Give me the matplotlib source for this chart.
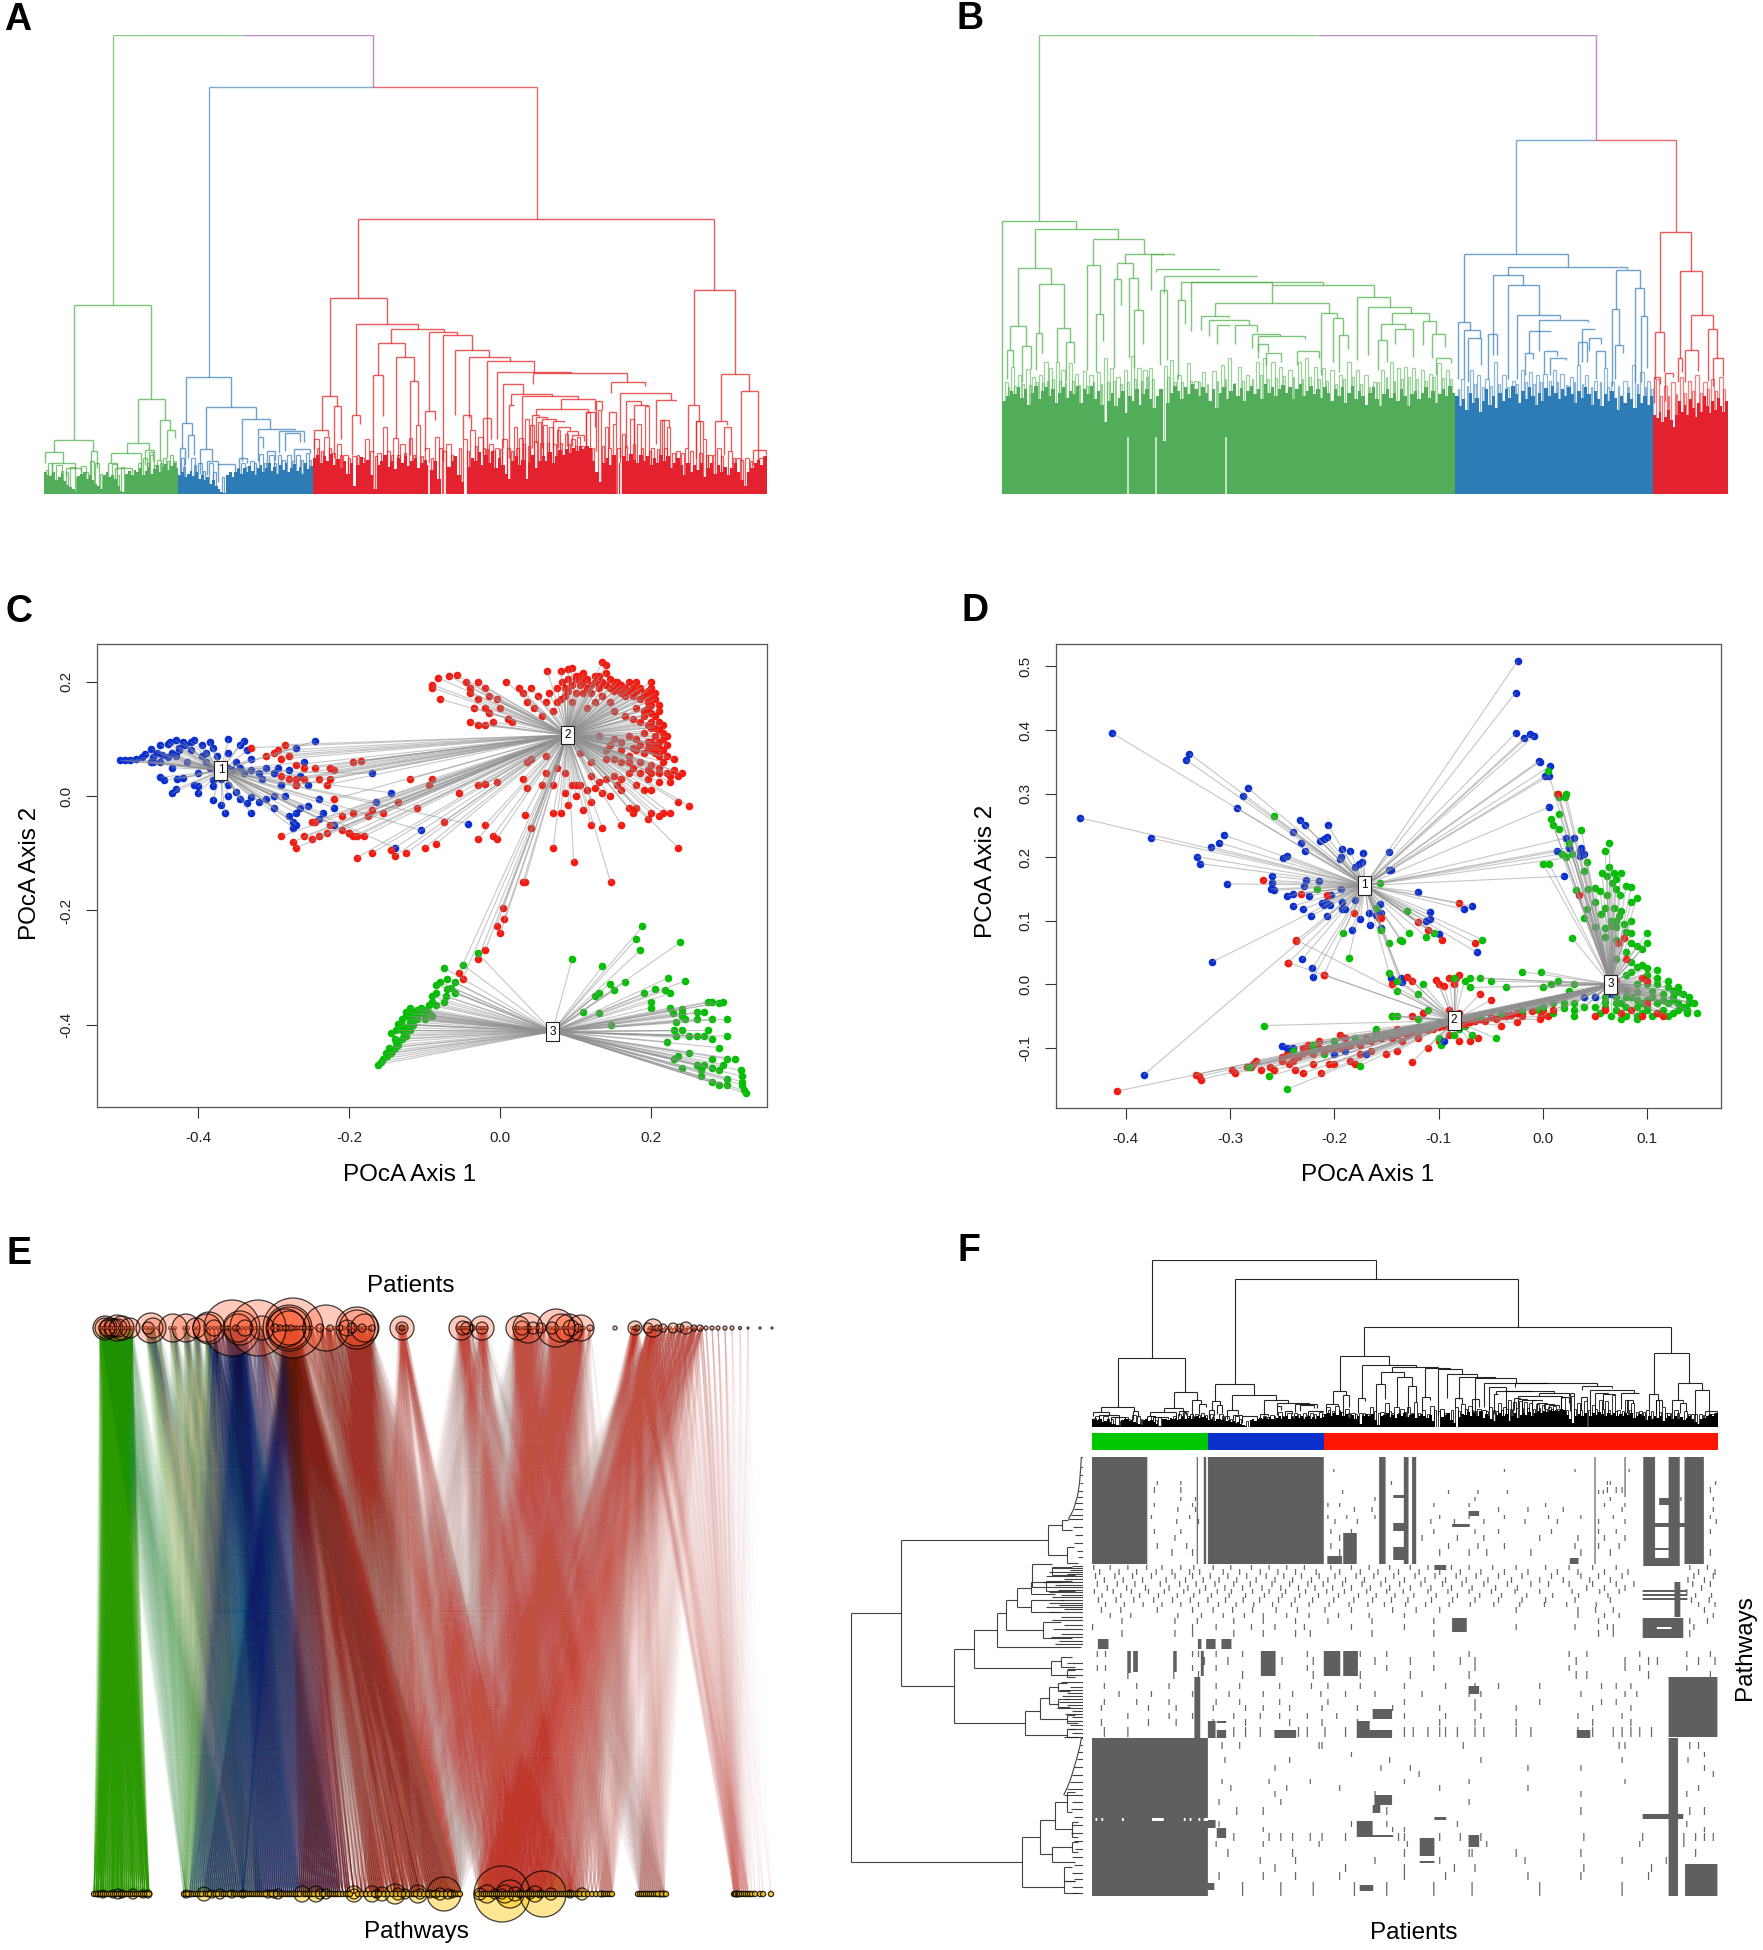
# -*- coding: utf-8 -*-
import numpy as np
import matplotlib
matplotlib.use('Agg')
import matplotlib.pyplot as plt
from matplotlib.collections import LineCollection
from matplotlib.patches import Circle

plt.rcParams['font.family'] = ['Liberation Sans', 'DejaVu Sans']
W, H = 1763, 1950

# ---- dendrogram A: (left x, right x, top, left bottom, right bottom), heights as read
a_root = (201, 664, 101, 886, 253)
a_second = (373, 956, 253, 1095, 637)
a_green = [(131,269,886,1277,1159),(97,165,1277,1313,1310),(81,112,1313,1345,1343),(92,133,1343,1370,1362),
           (118,145,1358,1382,1370),(162,172,1310,1380,1358),(246,294,1159,1286,1221),(226,265,1286,1314,1308),
           (197,252,1314,1345,1372),(204,235,1358,1400,1375),(258,275,1308,1350,1318),(285,303,1221,1340,1250),
           (298,312,1250,1330,1272),(265,272,1312,1370,1340),(192,208,1345,1390,1365)]
a_blue = [(332,412,1095,1228,1183),(325,342,1228,1300,1262),(335,345,1262,1330,1320),(320,330,1300,1375,1350),
          (367,457,1183,1303,1217),(357,378,1303,1375,1335),(368,388,1338,1380,1350),(388,418,1348,1400,1432),
          (432,481,1217,1340,1245),(460,525,1245,1265,1250),(460,468,1268,1340,1300),(497,541,1252,1315,1282),
          (507,535,1258,1310,1282),(523,553,1305,1340,1315),(475,490,1310,1370,1335),(425,440,1330,1380,1345)]
a_red = [(638,1272,637,865,841),(588,690,865,1151,941),(574,601,1151,1250,1178),(560,585,1250,1305,1265),
         (595,607,1178,1330,1275),(634,745,941,1205,955),(627,641,1205,1320,1230),(697,791,955,997,963),
         (673,721,997,1090,1038),(664,682,1090,1315,1208),(706,737,1038,1272,1105),(730,745,1105,1320,1235),
         (765,815,963,1193,973),(757,775,1193,1310,1220),(790,841,973,1340,1015),(810,871,1015,1205,1036),
         (825,840,1205,1275,1250),(835,909,1036,1215,1047),(860,875,1215,1320,1275),(867,951,1047,1340,1081),
         (886,1017,1081,1275,1084),(950,1118,1084,1115,1110),(897,932,1115,1300,1145),(907,915,1175,1330,1175),
         (911,984,1145,1175,1150),(930,1030,1150,1340,1160),(1000,1060,1160,1188,1190),(955,1047,1188,1205,1200),
         (1088,1149,1110,1142,1122),(1105,1195,1142,1330,1162),(1115,1142,1165,1300,1175),(1130,1155,1175,1290,1180),
         (1168,1205,1162,1290,1165),(1062,1072,1165,1310,1190),(1180,1192,1220,1320,1240),(948,960,1205,1300,1208),
         (955,975,1210,1285,1218),(965,990,1218,1300,1222),(985,1005,1222,1300,1225),(995,1015,1240,1300,1248),
         (1010,1030,1252,1295,1262),(1020,1040,1262,1295,1280),(1236,1309,841,1175,1087),(1225,1245,1175,1300,1222),
         (1240,1252,1222,1330,1275),(1285,1334,1087,1222,1136),(1274,1296,1222,1320,1235),(1320,1350,1136,1340,1335),
         (1342,1365,1308,1350,1320),(1290,1302,1240,1320,1310),(1045,1060,1195,1300,1240),(1085,1098,1195,1300,1230)]
# twigs: (x, width, top) of the small merges just above the dense part
a_twigs_green = [(85,8,1345),(100,10,1350),(125,8,1355),(145,8,1352),(160,8,1340),(170,6,1345),(200,8,1348),(215,6,1355),
                 (245,7,1345),(255,6,1330),(268,6,1320),(280,6,1335),(290,6,1330),(303,6,1320),(82,4,1365),(90,4,1375),(108,4,1368),
                 (118,4,1372),(135,4,1385),(152,4,1370),(178,4,1375),(208,4,1380),(226,4,1390),(240,4,1370),(262,4,1345),(274,4,1350),(285,4,1345),(297,4,1340),(310,4,1340)]
a_twigs_blue = [(322,6,1330),(340,7,1330),(352,8,1345),(372,8,1345),(430,7,1345),(445,8,1340),(462,7,1318),(480,8,1320),
                (495,6,1322),(512,7,1320),(528,6,1320),(545,6,1315),(326,4,1355),(346,4,1350),(362,4,1368),(380,4,1370),(395,4,1385),(422,4,1360),
                (438,4,1355),(452,4,1345),(470,4,1345),(488,4,1345),(503,4,1335),(520,4,1340),(536,4,1335),(551,4,1335)]
a_twigs_red = [(560,8,1275),(578,8,1268),(600,7,1290),(612,8,1320),(628,7,1325),(650,8,1275),(672,7,1315),(682,8,1240),
               (700,10,1272),(712,9,1290),(728,6,1272),(742,6,1235),(758,7,1300),(775,7,1270),(795,8,1290),(825,7,1275),
               (838,8,1250),(852,9,1270),(872,7,1290),(882,7,1300),(895,8,1275),(915,6,1240),(925,7,1272),(935,7,1218),
               (945,6,1235),(958,6,1225),(968,6,1235),(978,7,1240),(992,6,1250),(1006,6,1260),(1018,6,1275),(1028,6,1268),
               (1045,7,1195),(1065,6,1190),(1078,6,1240),(1092,6,1230),(1108,6,1260),(1122,7,1218),(1135,7,1230),(1150,6,1180),
               (1160,6,1300),(1176,7,1220),(1188,6,1240),(1205,6,1310),(1220,6,1300),(1240,7,1222),(1252,6,1275),(1262,6,1320),
               (1278,7,1300),(1298,6,1310),(1312,7,1330),(1328,6,1330),(1352,7,1330),
               (565,4,1300),(572,4,1310),(586,4,1300),(592,4,1315),(606,4,1320),(620,4,1330),(636,4,1320),(644,4,1330),(660,4,1310),(668,4,1325),
               (690,4,1310),(696,4,1320),(708,4,1320),(720,4,1315),(736,4,1320),(750,4,1325),(768,4,1330),(783,4,1300),(790,4,1310),(803,4,1320),
               (818,4,1300),(832,4,1310),(846,4,1295),(860,4,1300),(866,4,1305),(878,4,1310),(890,4,1305),(904,4,1300),(910,4,1310),(920,4,1300),
               (932,4,1290),(940,4,1295),(952,4,1280),(963,4,1285),(974,4,1285),(986,4,1290),(998,4,1285),(1012,4,1290),(1024,4,1295),(1036,4,1295),
               (1054,4,1300),(1072,4,1295),(1084,4,1300),(1100,4,1300),(1114,4,1295),(1128,4,1290),(1142,4,1300),(1156,4,1310),(1170,4,1305),(1184,4,1300),
               (1198,4,1315),(1214,4,1315),(1230,4,1310),(1246,4,1315),(1258,4,1320),(1270,4,1320),(1284,4,1325),(1306,4,1330),(1320,4,1335),(1336,4,1340),(1348,4,1340),(1360,4,1325)]
a_top_green = [1372,1378,1382,1370,1395,1385,1375,1398,1408,1415,1420,1428,1382,1375,1370,1390,1380,1395,1405,1412,1420,1380,1372,1385,
               1378,1392,1410,1425,1430,1375,1368,1380,1365,1372,1360,1378,1368,1355,1375,1362,1350,1370,1355,1348,1365,1352,1345,1360]
a_top_blue = [1378,1370,1385,1375,1368,1382,1372,1390,1378,1395,1385,1405,1395,1412,1420,1428,1432,1378,1370,1385,1372,1362,1375,1358,
              1370,1352,1368,1378,1360,1350,1372,1358,1345,1368,1355,1375,1350,1365,1345,1372,1358,1348,1368,1355,1375,1345,1362,1352]
a_top_red = [1330,1320,1345,1325,1340,1318,1350,1332,1360,1340,1375,1345,1410,1350,1328,1345,1335,1380,1420,1350,1340,1322,1355,1338,
             1362,1330,1345,1325,1352,1340,1330,1360,1345,1335,1350,1365,1340,1390,1433,1433,1355,1340,1325,1380,1400,1433,1355,1330,
             1340,1312,1350,1320,1345,1310,1360,1330,1350,1375,1390,1340,1325,1350,1335,1390,1345,1320,1360,1338,1325,1340,1312,1345,
             1325,1308,1320,1305,1315,1300,1310,1296,1305,1294,1300,1340,1372,1400,1345,1330,1350,1320,1433,1345,1325,1340,1318,1335,
             1345,1320,1340,1325,1350,1330,1345,1320,1340,1325,1360,1345,1330,1350,1380,1345,1370,1350,1365,1345,1385,1360,1345,1375,
             1350,1370,1355,1380,1360,1345,1370,1395,1410,1370,1360,1345,1335,1350,1325]

# ---- dendrogram B
b_root = (283, 1271, 101, 642, 407)
b_second = (1130, 1413, 407, 738, 675)
b_green = [(216,349,642,1165,665),(275,423,665,778,695),(379,469,695,769,737),(246,303,778,947,826),(283,326,826,966,953),
           (231,260,947,1015,1006),(225,237,1015,1100,1065),(253,268,1006,1110,1072),(277,287,966,1075,1024),(314,338,953,1052,994),
           (331,345,994,1105,1055),(368,390,769,1075,913),(384,396,913,1080,990),(421,450,764,810,806),(415,428,810,1070,887),
           (442,459,806,1040,900),(451,468,900,1070,1000),(436,522,737,764,741),(481,502,738,843,740),(497,510,843,1060,1044),
           (491,603,780,790,785),(504,670,800,850,800),(535,787,820,870,827),(530,541,870,1100,942),(553,696,820,960,827),
           (696,877,827,881,862),(595,798,881,917,909),(570,620,917,958,920),(585,655,930,975,945),(598,620,945,1000,948),
           (630,670,945,1000,965),(660,710,970,1010,975),(672,755,975,1020,985),(672,690,1000,1040,1022),(685,712,1025,1060,1050),
           (740,780,1020,1060,1040),(784,812,909,1090,924),(804,822,924,1050,972),(815,832,972,1080,1012),(848,905,862,1045,890),
           (867,943,890,1030,910),(910,975,908,942,932),(889,932,942,988,955),(915,947,955,1000,1036),(965,988,932,1002,970),
           (980,1003,970,1040,1008),(988,1014,1040,1090,1055),(885,900,988,1075,1050)]
b_blue = [(1037,1222,738,935,775),(1027,1047,935,1100,958),(1038,1066,958,1100,982),(1045,1068,982,1110,1060),(1115,1327,775,798,780),
          (1088,1142,798,1030,827),(1080,1095,970,1100,1030),(1115,1170,827,1100,915),(1132,1208,915,1100,925),(1170,1258,930,1020,935),
          (1152,1192,962,1025,962),(1145,1160,1025,1090,1042),(1180,1202,1018,1085,1035),(1190,1218,1040,1090,1045),(1247,1270,955,1050,955),
          (1240,1255,992,1060,1050),(1260,1280,980,1020,1000),(1272,1287,1020,1100,1070),(1307,1349,783,897,835),(1300,1313,897,1120,1003),
          (1306,1320,1003,1100,1025),(1340,1357,835,1110,917),(1352,1363,917,1110,1070)]
b_red = [(1385,1440,675,965,788),(1377,1393,965,1100,1080),(1420,1459,788,1040,915),(1418,1425,1040,1110,1080),(1441,1479,915,1015,955),
         (1430,1452,1015,1110,1078),(1470,1487,955,1105,1040),(1480,1498,1040,1120,1093),(1395,1408,1082,1165,1095),(1375,1385,1095,1170,1115)]
b_twigs_green = [(222,5,1110),(232,6,1065),(245,6,1090),(260,6,1072),(270,6,1095),(282,6,1090),(292,6,1050),(300,6,1070),(312,6,1052),
                 (322,6,1075),(335,6,1055),(346,6,1085),(360,6,1078),(372,6,1090),(385,6,1080),(398,6,1040),(408,6,1070),(420,7,1095),
                 (433,6,1075),(445,6,1035),(457,6,1070),(468,6,1075),(478,6,1070),(504,6,1062),(515,6,1045),(528,6,1090),(545,6,1055),
                 (558,6,1105),(572,6,1080),(590,6,1078),(605,6,1060),(618,6,1040),(635,6,1065),(650,6,1090),(668,6,1050),(680,6,1040),
                 (695,6,1050),(708,6,1065),(725,6,1075),(742,6,1050),(755,6,1040),(770,6,1065),(785,6,1070),(800,6,1075),(815,6,1090),
                 (830,6,1050),(845,6,1075),(860,6,1090),(875,6,1110),(890,6,1075),(905,6,1050),(918,6,1070),(930,6,1065),(945,6,1070),
                 (960,6,1075),(975,6,1085),(990,6,1055),(1005,6,1075),
                 (227,3,1125),(238,3,1120),(252,3,1115),(265,3,1118),(277,3,1110),(288,3,1112),(296,3,1105),(306,3,1100),(318,3,1105),(328,3,1112),
                 (341,3,1105),(353,3,1118),(366,3,1120),(378,3,1110),(392,3,1115),(403,3,1108),(414,3,1105),(427,3,1115),(439,3,1108),(451,3,1100),
                 (463,3,1105),(473,3,1095),(483,3,1100),(510,3,1095),(522,3,1110),(535,3,1108),(551,3,1105),(565,3,1110),(580,3,1115),(598,3,1105),
                 (612,3,1100),(628,3,1112),(643,3,1105),(660,3,1100),(675,3,1090),(688,3,1100),(702,3,1098),(716,3,1092),(733,3,1095),(749,3,1100),
                 (762,3,1095),(778,3,1100),(792,3,1105),(808,3,1115),(823,3,1100),(838,3,1095),(853,3,1115),(868,3,1125),(883,3,1110),(898,3,1095),
                 (912,3,1105),(925,3,1100),(938,3,1095),(952,3,1100),(968,3,1105),(982,3,1095),(998,3,1098),(1012,3,1100)]
b_twigs_blue = [(1032,6,1100),(1048,6,1075),(1060,6,1090),(1075,6,1100),(1090,6,1050),(1105,6,1090),(1122,6,1105),(1138,6,1075),(1152,6,1080),
                (1165,6,1090),(1178,6,1085),(1195,6,1075),(1208,6,1085),(1225,6,1095),(1238,6,1060),(1252,6,1090),(1268,6,1105),(1285,6,1070),
                (1298,6,1110),(1320,6,1105),(1335,6,1060),(1350,6,1080),(1362,6,1105),
                (1026,3,1130),(1042,3,1120),(1055,3,1115),(1070,3,1125),(1084,3,1120),(1098,3,1115),(1114,3,1125),(1130,3,1115),(1146,3,1110),(1160,3,1115),
                (1172,3,1110),(1188,3,1105),(1202,3,1110),(1218,3,1118),(1232,3,1110),(1246,3,1115),(1262,3,1125),(1278,3,1110),(1292,3,1125),(1310,3,1120),
                (1328,3,1125),(1344,3,1115),(1358,3,1125),(1369,3,1130)]
b_twigs_red = [(1378,6,1100),(1392,6,1120),(1405,6,1110),(1420,6,1095),(1435,6,1105),(1448,6,1090),(1462,6,1110),(1475,6,1100),(1490,7,1095),
               (1385,3,1150),(1399,3,1150),(1413,3,1145),(1428,3,1140),(1442,3,1135),(1456,3,1140),(1469,3,1130),(1483,3,1135),(1497,3,1130)]
b_top_green = [1165,1150,1135,1145,1125,1155,1130,1175,1140,1120,1160,1135,1125,1150,1130,1170,1140,1125,1155,1135,1145,1120,1170,1130,
               1145,1120,1160,1135,1175,1225,1165,1140,1180,1155,1135,1200,1150,1165,1130,1175,1145,1130,1160,1185,1150,1130,1280,1170,
               1140,1120,1135,1160,1125,1145,1115,1130,1150,1125,1140,1165,1130,1185,1140,1125,1160,1135,1115,1150,1128,1165,1135,1120,
               1145,1130,1160,1115,1140,1125,1150,1130,1118,1140,1125,1160,1130,1115,1150,1135,1120,1145,1130,1155,1125,1140,1165,1130,
               1150,1125,1170,1140,1120,1160,1135,1150,1175,1140,1125,1160,1180,1145,1130,1155,1140,1165,1130,1150,1180,1145,1135,1160,
               1140,1125,1155,1135,1170,1145,1130,1150,1120,1140]
b_top_blue = [1150,1180,1160,1190,1140,1170,1155,1195,1165,1130,1175,1150,1185,1140,1165,1130,1155,1120,1145,1170,1135,1160,1125,1150,
              1175,1140,1165,1128,1150,1120,1140,1160,1130,1150,1125,1145,1170,1135,1155,1125,1145,1175,1135,1160,1180,1145,1165,1135,
              1155,1190,1150,1170,1140,1160,1185,1145,1170,1150,1175,1150]
b_top_red = [1205,1215,1195,1225,1210,1190,1220,1240,1205,1165,1195,1175,1205,1160,1185,1210,1170,1195,1150,1180,1200,1165,1190,1155,1180,1195,1165]
b_gaps = [441, 490, 615]
a_gaps = [765, 1107]

# ---- panel C: ordination points
c_blue = [(-.503,.063),(-.497,.063),(-.49,.064),(-.482,.065),(-.475,.068),(-.47,.074),(-.462,.082),(-.46,.068),(-.455,.076),(-.448,.072),(-.463,.06),(-.45,.09),
          (-.44,.092),(-.437,.095),(-.43,.098),(-.425,.085),(-.42,.095),(-.425,.08),(-.43,.07),(-.418,.09),(-.41,.095),(-.405,.098),(-.41,.08),(-.395,.09),
          (-.385,.095),(-.39,.075),(-.38,.085),(-.375,.07),(-.36,.1),(-.36,.075),(-.345,.09),(-.34,.097),(-.335,.08),(-.35,.06),(-.33,.065),(-.345,.05),
          (-.355,.045),(-.4,.04),(-.39,.06),(-.415,.06),(-.435,.05),(-.45,.033),(-.445,.028),(-.428,.03),(-.42,.032),(-.38,.028),(-.4,.017),(-.405,.02),
          (-.43,.012),(-.435,.005),(-.4,.005),(-.38,.018),(-.37,.03),(-.36,.02),(-.35,.008),(-.365,-.03),(-.38,-.007),(-.37,-.015),(-.36,.0),(-.345,-.005),
          (-.335,-.012),(-.33,-.002),(-.32,-.01),(-.33,-.03),(-.31,-.005),(-.3,-.02),(-.28,-.035),(-.275,-.045),(-.27,-.03),(-.265,-.02),(-.255,-.018),(-.24,-.04),
          (-.235,-.03),(-.24,-.005),(-.22,-.02),(-.245,.097),(-.27,.085),(-.31,.05),(-.295,.05),(-.28,.045),(-.3,.04),(-.265,.035),(-.27,.02),(-.17,.04),
          (-.165,-.01),(-.145,.006),(-.105,-.06),(-.043,-.048),(-.14,-.09),(-.22,-.05),(-.2,-.065),(-.29,.02),(-.3,.0),(-.285,.0),(-.46,.06),(-.45,.06),(-.44,.068),(-.435,.075),
          (-.395,.07),(-.385,.05),(-.36,.05),(-.34,.04),(-.33,.045),(-.315,.03),(-.32,.04),(-.26,.06),(-.255,.02),(-.275,-.055),(-.27,-.05)]
c_red = [(-.09,.195),(-.09,.19),(-.082,.207),(-.068,.21),(-.058,.212),(-.08,.17),(-.045,.2),(-.04,.19),(-.03,.2),(-.02,.19),(-.04,.18),(-.015,.175),(-.03,.17),
         (-.035,.155),(-.02,.155),(-.005,.17),(.0,.155),(-.015,.145),(-.04,.13),(-.03,.125),(-.02,.125),(-.01,.13),(.01,.135),(.015,.13),(.008,.2),(.025,.19),
         (.03,.18),(.04,.19),(.035,.165),(.05,.175),(.045,.155),(.06,.165),(.055,.14),(.065,.18),(.062,.22),(.07,.15),(.075,.19),(.08,.22),(.082,.2),(.085,.19),
         (.09,.205),(.09,.222),(.095,.225),(.1,.205),(.105,.195),(.1,.18),(.11,.2),(.115,.19),(.12,.18),(.125,.2),(.13,.21),(.135,.235),(.14,.23),(.14,.215),
         (.145,.205),(.15,.2),(.155,.19),(.16,.18),(.17,.2),(.175,.19),(.18,.2),(.185,.19),(.19,.18),(.2,.2),(.2,.19),(.205,.18),(.205,.17),(.2,.16),(.21,.16),
         (.21,.15),(.205,.14),(.2,.13),(.21,.13),(.2,.12),(.21,.115),(.215,.11),(.205,.105),(.215,.1),(.19,.11),(.18,.1),(.17,.105),(.15,.1),(.13,.105),(.145,.09),
         (.16,.08),(.18,.08),(.19,.075),(.21,.07),(.22,.07),(.215,.06),(.23,.065),(.21,.05),(.2,.055),(.22,.04),(.23,.045),(.24,.04),(.235,.035),(.225,.035),
         (.195,.045),(.21,.025),(.225,.025),(.18,.02),(.17,.04),(.16,.03),(.15,.035),(.155,.02),(.14,.03),(.13,.025),(.12,.035),(.125,.015),(.105,.02),(.115,.01),
         (.1,.02),(.095,.02),(.085,.04),(.075,.05),(.06,.07),(.04,.065),(.035,.06),(.03,.03),(.035,.015),(.07,.02),(.09,-.015),(.11,-.025),(.135,-.055),(.12,-.05),
         (.16,-.05),(.18,-.02),(.17,-.02),(.175,-.03),(.2,-.03),(.195,-.04),(.21,-.035),(.215,-.03),(.225,-.03),(.235,-.01),(.25,-.017),(.235,-.09),(.146,-.151),
         (.097,-.115),(.07,-.09),(.03,-.15),(-.005,-.075),(.07,-.03),(.08,-.03),(.032,-.033),(.04,-.055),(-.02,-.05),(-.29,-.07),(-.275,-.08),(-.27,-.09),
         (-.26,-.07),(-.25,-.075),(-.24,-.07),(-.23,-.065),(-.225,-.05),(-.21,-.06),(-.2,-.065),(-.195,-.07),(-.19,-.07),(-.18,-.07),(-.19,-.108),(-.17,-.1),
         (-.145,-.095),(-.14,-.105),(-.125,-.1),(-.1,-.09),(-.085,-.083),(-.25,-.045),(-.245,-.045),(-.22,-.005),(-.21,-.035),(-.195,-.03),(-.175,-.035),
         (-.17,-.025),(-.155,-.03),(-.135,-.01),(-.11,-.02),(-.12,.03),(-.09,.03),(-.095,.02),(-.055,.005),(-.03,.02),(-.005,.025),(-.02,.022),(-.075,-.045),
         (-.03,-.075),(-.01,-.07),(-.33,.085),(-.295,.08),(-.285,.09),(-.28,.07),(-.3,.075),(-.31,.07),(-.29,.065),(-.27,.055),(-.26,.05),(-.245,.05),(-.225,.05),
         (-.22,.045),(-.195,.06),(-.185,.062),(-.29,.035),(-.28,.03),(-.27,.03),(-.27,.02),(-.26,.03),(-.24,.03),(-.23,.02),(-.225,.03),(.003,-.195),(.005,-.215),
         (-.005,-.227),(.0,-.24),(-.02,-.27),(-.03,-.285),(-.05,-.32),(-.055,-.31),(.032,-.15),(.18,.155),(.19,.15),(.175,.135),(.165,.14),(.15,.15),(.145,.165),
         (.135,.175),(.125,.165),(.115,.155),(.195,.095),(.205,.09),(.185,.06),(.17,.06),(.16,.06),(.14,.065),(.12,.06),(.105,.075),(.06,.04),(.055,.02),
         (.105,.21),(.11,.215),(.115,.205),(.12,.195),(.125,.21),(.13,.19),(.135,.2),(.14,.195),(.145,.19),(.15,.185),(.155,.2),(.16,.195),(.165,.19),(.165,.175),(.17,.185),
         (.175,.175),(.18,.185),(.185,.17),(.19,.175),(.195,.165),(.195,.185),(.2,.175),(.195,.155),(.2,.145),(.19,.14),(.185,.13),(.195,.125),(.205,.12),(.215,.125),(.22,.105),
         (.21,.095),(.2,.095),(.22,.09),(.215,.08),(.205,.075),(.195,.085),(.185,.09),(.175,.085),(.2,.08),(.21,.085),(.16,.095),(.14,.08),(.15,.065),(.17,.07),(.175,.05),(.185,.04),
         (.2,.04),(.195,.03),(.21,.04),(.19,.01),(.2,.01),(.16,.01),(.145,.0),(.135,.005),(.12,-.01),(.1,.0),(.085,.005),(.1,.21),(.095,.195),(.09,.185),(.085,.175),(.08,.17),(.11,.18),(.095,.165),(.075,.165)]
c_green = [(-.162,-.47),(-.158,-.465),(-.155,-.46),(-.15,-.455),(-.145,-.45),(-.148,-.44),(-.14,-.44),(-.135,-.435),(-.13,-.425),(-.14,-.425),(-.145,-.415),
           (-.13,-.41),(-.125,-.405),(-.135,-.398),(-.13,-.39),(-.12,-.395),(-.125,-.385),(-.12,-.37),(-.125,-.378),(-.115,-.38),(-.11,-.375),(-.105,-.37),
           (-.11,-.385),(-.1,-.39),(-.095,-.38),(-.09,-.385),(-.1,-.375),(-.095,-.365),(-.09,-.36),(-.085,-.365),(-.09,-.35),(-.085,-.345),(-.075,-.36),(-.072,-.35),
           (-.07,-.338),(-.065,-.335),(-.06,-.345),(-.085,-.33),(-.08,-.325),(-.07,-.32),(-.06,-.325),(-.075,-.3),(-.05,-.295),(-.03,-.275),(-.115,-.4),(-.12,-.41),
           (-.128,-.418),(-.11,-.39),(.095,-.285),(.135,-.298),(.18,-.25),(.185,-.27),(.188,-.228),(.238,-.256),(.165,-.325),(.145,-.328),(.13,-.345),(.125,-.35),
           (.15,-.34),(.19,-.345),(.205,-.338),(.222,-.318),(.245,-.323),(.218,-.34),(.225,-.345),(.2,-.36),(.2,-.37),(.225,-.37),(.24,-.372),(.11,-.378),(.13,-.38),
           (.147,-.4),(.228,-.38),(.24,-.38),(.26,-.378),(.27,-.378),(.275,-.36),(.29,-.362),(.28,-.36),(.295,-.36),(.3,-.39),(.28,-.39),(.26,-.39),(.245,-.39),(.24,-.385),
           (.232,-.395),(.23,-.41),(.24,-.41),(.25,-.42),(.26,-.42),(.27,-.42),(.28,-.425),(.275,-.41),(.3,-.42),(.22,-.43),(.232,-.42),(.29,-.44),(.235,-.455),(.25,-.45),
           (.28,-.46),(.23,-.46),(.26,-.47),(.265,-.48),(.28,-.475),(.29,-.48),(.295,-.47),(.3,-.46),(.31,-.46),(.3,-.495),(.32,-.49),(.28,-.5),(.29,-.505),(.3,-.505),
           (.32,-.5),(.32,-.505),(.322,-.515),(.325,-.52),(.318,-.48),(.27,-.47),(.24,-.475),(.265,-.49),(-.152,-.45),(-.142,-.445),(-.138,-.43),(-.125,-.42),(-.12,-.4),(-.115,-.39),(-.105,-.38),(-.098,-.385),
           (-.118,-.385),(-.13,-.4),(-.138,-.41)]
c_centres = [(-.37, .045), (.0885, .107), (.069, -.412)]
c_xticks = [-0.4, -0.2, 0.0, 0.2]
c_yticks = [-0.4, -0.2, 0.0, 0.2]

# ---- panel D: points grouped by the centre they link to
d_blue_c1 = [(-.024,.509),(-.026,.459),(-.026,.395),(-.018,.387),(-.012,.393),(-.008,.391),(-.004,.351),(-.003,.35),(.007,.343),(.002,.327),(.006,.328),(.006,.279),
             (-.413,.395),(-.342,.353),(-.339,.363),(-.283,.309),(-.288,.296),(-.293,.277),(-.444,.262),(-.376,.23),(-.306,.235),(-.311,.223),(-.318,.216),(-.332,.201),
             (-.329,.19),(-.303,.158),(-.233,.258),(-.228,.25),(-.24,.24),(-.232,.223),(-.228,.21),(-.21,.228),(-.214,.226),(-.207,.232),(-.206,.25),(-.249,.198),(-.245,.202),
             (-.193,.213),(-.185,.21),(-.194,.2),(-.195,.197),(-.172,.207),(-.148,.208),(-.18,.185),(-.176,.19),(-.173,.192),(-.146,.18),(-.26,.17),(-.26,.16),(-.261,.15),(-.258,.148),
             (-.227,.164),(-.215,.163),(-.229,.154),(-.194,.15),(-.245,.139),(-.24,.142),(-.224,.139),(-.203,.14),(-.208,.13),(-.21,.125),(-.212,.128),(-.204,.124),(-.193,.13),
             (-.18,.133),(-.24,.123),(-.23,.118),(-.222,.107),(-.207,.108),(-.193,.118),(-.19,.118),(-.175,.103),(-.167,.112),(-.156,.127),(-.16,.109),(-.155,.112),(-.155,.088),
             (-.183,.085),(-.166,.093),(-.12,.145),(-.108,.114),(-.112,.1),(-.108,.103),(-.1,.079),(-.076,.118),(-.068,.123),(-.063,.05),(-.317,.035),(-.231,.039),(-.221,.025),
             (-.22,.012),(-.148,.18),(.02,.17),(-.146,.01),(-.137,.005),(-.136,.01),(-.135,.003),(.014,.209),(.025,.215),(.036,.21),(.036,.202),(.022,.23),(-.383,-.143)]
d_green_c1 = [(-.258,.265),(-.217,.15),(-.156,.16),(-.155,.085),(-.192,.08),(-.186,.042),(-.16,.12),(-.13,.115),(-.135,.068),(-.128,.08),(-.112,.075),(-.104,.08),(-.058,.07),(-.148,.065),(-.137,.07)]
d_red_c1 = [(-.268,.164),(-.232,.142),(-.207,.14),(-.181,.112),(-.157,.105),(-.155,.105),(-.12,.098),(-.11,.086),(-.097,.07),(-.08,.128),(-.065,.065),(-.237,.068),(-.244,.034),(-.21,.015)]
d_green_c3 = [(.014,.299),(.016,.295),(.022,.3),(.021,.295),(.005,.335),(.016,.268),(.008,.26),(.01,.25),(.016,.245),(.037,.243),(.025,.223),(.028,.205),(.018,.205),(.022,.2),(.042,.192),
              (.0,.19),(.006,.19),(.06,.21),(.064,.222),(.057,.175),(.062,.17),(.064,.185),(.068,.175),(.07,.165),(.05,.152),(.055,.147),(.043,.15),(.04,.178),(.062,.14),(.07,.15),(.08,.155),
              (.085,.153),(.085,.13),(.09,.135),(.032,.148),(.042,.118),(.068,.12),(.056,.11),(.073,.108),(.085,.1),(.04,.105),(.05,.09),(.06,.088),(.065,.092),(.07,.1),(.07,.09),(.028,.073),
              (.08,.082),(.085,.08),(.1,.08),(.1,.065),(.085,.065),(.09,.06),(.095,.055),(.08,.05),(.085,.035),(.07,.04),(.09,.027),(.095,.03),(.1,.025),(.11,.022),(.085,.02),(.08,.015),(.1,.015),
              (.11,.01),(.12,.005),(.12,-.005),(.125,-.01),(.13,-.005),(.13,-.012),(.135,-.015),(.14,-.02),(.14,-.028),(.14,-.03),(.145,-.03),(.138,-.04),(.148,-.045),(.138,-.045),(.13,-.04),
              (.12,-.05),(.11,-.045),(.1,-.04),(.09,-.05),(.09,-.055),(.08,-.05),(.075,-.055),(.055,-.045),(.03,-.05),(.01,-.03),(.03,.0),(.015,.005),(.008,.0),(-.002,.02),(-.02,.02),(-.035,-.005),
              (-.05,.005),(-.06,.01),(-.07,.01),(-.07,-.005),(.1,.0),(.11,.0),(.09,.0),(.08,-.01),(.06,-.02),(.07,-.03),(.05,-.02),(.025,-.01),(.0,-.005),
              (.075,.175),(.066,.16),(.074,.14),(.06,.12),(.05,.13),(.065,.1),(.075,.115),(.06,.075),(.07,.07),(.078,.095),
              (.085,-.02),(.09,-.025),(.095,-.03),(.1,-.025),(.105,-.02),(.11,-.03),(.115,-.025),(.12,-.03),(.125,-.025),(.13,-.03),(.135,-.035),(.1,-.035),(.09,-.035),(.08,-.035),(.07,-.04),(.06,-.035),
              (.075,-.03),(.105,-.01),(.115,-.015),(.125,-.02),(.09,-.012),(.08,-.02),(.07,-.02),(.06,-.028),(.05,-.035),(.04,-.035),(.03,-.03),(.02,-.03),(.01,-.045),(-.005,-.04),(.115,-.04),(.125,-.045),(.105,-.05),(.095,-.045),(.065,-.05)]
d_red_c3 = [(.035,.14),(.078,.073),(.08,.04),(.072,.065),(.015,.3),(.1,-.03),(.11,-.045),(.115,-.05),(.095,.01),(.07,-.01),(.07,.005),(.1,.005),(.095,-.05),(.085,-.04),(.075,-.045),(.06,-.04),(.05,-.05),(-.002,-.05),(-.02,-.05)]
d_blue_c3 = [(.037,.215),(.04,.205),(.03,.23),(.05,-.02),(.065,-.015),(.04,-.02)]
# low band, far from centre 3 but tied to it: these lines make the thick grey ribbon
d_red_band_c3 = [(-.25,-.115),(-.245,-.112),(-.24,-.11),(-.235,-.115),(-.23,-.108),(-.225,-.105),(-.22,-.11),(-.215,-.1),(-.21,-.105),(-.205,-.1),(-.2,-.098),(-.195,-.1),(-.19,-.095),(-.185,-.095),(-.18,-.09),
                 (-.175,-.095),(-.17,-.088),(-.165,-.09),(-.16,-.085),(-.155,-.085),(-.15,-.08),(-.145,-.085),(-.14,-.08),(-.135,-.075),(-.13,-.08),(-.125,-.075),(-.12,-.075),(-.115,-.07),(-.11,-.072),(-.105,-.07),
                 (-.1,-.068),(-.095,-.065),(-.09,-.068),(-.085,-.062),(-.08,-.06),(-.075,-.062),(-.07,-.06),(-.065,-.058),(-.06,-.055),(-.055,-.058),(-.05,-.052),(-.045,-.055),(-.04,-.05),(-.035,-.05),(-.03,-.048),(-.025,-.045),(-.02,-.045),(-.01,-.042),(.0,-.04),(.01,-.04)]
d_green_band_c3 = [(-.24,-.105),(-.22,-.102),(-.2,-.09),(-.18,-.085),(-.16,-.08),(-.14,-.075),(-.12,-.068),(-.1,-.06),(-.08,-.055),(-.06,-.05),(-.04,-.045),(-.02,-.04),(.0,-.035),(.02,-.038),(.03,-.04)]
d_red_c2 = [(-.408,-.168),(-.333,-.142),(-.33,-.145),(-.328,-.15),(-.298,-.135),(-.295,-.14),(-.284,-.13),(-.278,-.125),(-.275,-.12),(-.28,-.13),(-.27,-.135),(-.262,-.13),(-.258,-.135),
            (-.25,-.12),(-.243,-.125),(-.238,-.135),(-.24,-.12),(-.23,-.14),(-.213,-.14),(-.22,-.125),(-.205,-.125),(-.2,-.125),(-.185,-.12),(-.175,-.11),(-.18,-.125),(-.165,-.105),(-.15,-.11),
            (-.14,-.105),(-.125,-.122),(-.135,-.09),(-.12,-.085),(-.11,-.1),(-.1,-.09),(-.09,-.08),(-.08,-.09),(-.07,-.09),(-.062,-.085),(-.245,-.11),(-.23,-.1),(-.225,-.095),(-.215,-.09),(-.195,-.08),
            (-.19,-.085),(-.17,-.085),(-.16,-.075),(-.14,-.07),(-.145,-.05),(-.125,-.05),(-.115,-.045),(-.105,-.065),(-.09,-.04),(-.08,-.045),(-.05,-.025),(-.06,-.015),(-.04,-.065),(-.025,-.06),(-.003,-.055),
            (.005,-.05),(-.237,.07),(-.244,.034),(-.21,.015),(-.145,.0),(-.13,.012),(-.125,.005),(-.1,.0),(-.095,-.003),(-.09,.01),(-.085,.0),(-.083,.01),(-.08,.015),(-.102,.007)]
d_green_c2 = [(-.267,-.065),(-.263,-.145),(-.245,-.165),(-.282,-.13),(-.175,-.128),(-.16,-.07),(-.22,-.095),(-.21,-.11),(-.145,-.05),(-.14,-.05),(-.12,-.055),(-.11,-.04),(-.1,-.085),(-.098,-.095),(-.085,-.08),
              (-.08,-.07),(-.068,-.08),(-.045,-.085),(-.075,-.065),(-.14,.005),(-.12,-.015),(-.14,-.01),(-.085,.01),(-.075,.005),(-.148,.018),(-.115,.0)]
d_blue_c2 = [(-.25,-.097),(-.245,-.1),(-.24,-.1),(-.17,-.11),(-.095,-.09),(-.2,-.11),(-.19,-.105)]
d_centres = [(-.1707, .1555), (-.085, -.057), (.065, .0)]
d_xticks = [-0.4, -0.3, -0.2, -0.1, 0.0, 0.1]
d_yticks = [-0.1, 0.0, 0.1, 0.2, 0.3, 0.4, 0.5]

# ---- panel E: network nodes (x along the row, radius)
e_top = [(105,12),(105,10),(110,10),(107,8),(117,13),(114,9),(122,12),(118,9),(130,10),(151,15),(153,10),(148,6),(173,14),(186,14),(196,10),(209,16),(207,14),(214,8),(232,28),(240,17),(238,14),(245,8),(236,3),(228,2),(258,28),
         (262,12),(275,4),(289,23),(289,21),(289,17),(286,19),(293,30),(280,3),(286,3),(291,3),(296,2),(301,2),(310,2),(326,23),(320,4),(330,3),(340,3),(357,21),(357,18),(365,14),(347,8),(352,5),(362,4),(372,3),
         (402,12),(402,6),(402,3),(461,12),(463,7),(467,6),(472,3),(482,12),(482,6),(518,12),(522,7),(528,15),(533,6),(541,5),(556,19),(561,14),(552,6),(569,14),(571,8),(581,13),(578,4),(590,3),
         (615,2),(635,7),(637,3),(653,9),(648,5),(657,3),(663,4),(673,5),(686,6),(680,4),(694,3),(700,3),(706,2),(712,2),(718,2),(725,2),(732,2),(740,1.5),(748,1),(760,1),(772,1)]
# small nodes hidden inside the big circles
e_top_small = [100,102,104,106,108,110,112,114,116,118,120,122,124,126,128,130,132,146,150,154,158,170,175,184,188,194,198,206,210,214,218,
               222,226,230,234,238,242,246,250,254,258,262,268,272,278,282,284,288,292,294,298,304,308,312,316,322,328,334,338,344,348,350,354,358,360,364,368,370,
               399,401,403,405,458,460,462,464,466,468,478,480,482,484,486,514,516,518,520,524,526,530,532,536,538,544,550,554,558,560,564,566,568,572,574,576,580,582,584,
               632,634,636,638,650,652,654,656,660,666,670,676,682,688,692,696,702]
e_bottom = [(98,3),(103,4),(113,4),(118,5),(122,4),(133,5),(143,4),(148,4),(186,4),(190,3),(204,7),(212,4),(220,5),(232,4),(243,4),
            (268,4),(274,4),(278,5),(302,8),(316,8),(320,5),(326,5),(354,8),(354,5),(372,8),(376,4),(382,7),(395,10),(398,6),
            (405,5),(418,9),(420,5),(430,4),(436,4),(444,17),(440,6),(448,5),(452,4),(480,6),(487,9),(495,5),(502,28),(502,5),(505,9),(510,14),(515,7),(520,4),(530,5),(543,23),(535,8),(540,4),(551,6),
            (570,4),(582,6),(602,3),(660,3),(664,3),(737,3)]
e_bottom_small = [94,96,98,100,101,103,105,107,109,111,113,115,117,119,121,123,125,127,129,131,133,135,137,139,141,143,145,147,149,
                  184,186,188,192,194,196,198,200,202,206,208,210,214,216,218,222,224,226,228,230,234,236,238,240,242,244,246,248,250,252,254,256,258,260,262,264,266,
                  270,272,276,280,282,284,286,288,290,292,294,296,298,300,304,306,308,310,312,314,318,322,324,328,330,332,334,336,338,340,343,346,348,350,
                  358,362,366,370,374,378,380,384,388,392,396,400,404,408,412,414,416,420,424,428,432,434,438,442,446,450,454,456,458,460,
                  478,482,484,486,488,490,492,494,496,498,500,502,504,506,508,510,512,514,516,518,520,522,524,526,528,530,532,534,536,538,540,542,544,546,548,550,552,554,556,558,560,562,564,566,568,570,572,574,576,578,
                  580,584,588,592,596,600,604,606,608,610,612,
                  638,640,642,644,646,648,650,652,654,656,658,662,666,734,735,736,738,739,740,742,744,746,748,750,752,755,760,763,771]
# bundles: top range, bottom range, colour, alpha
e_bundles = [(100,133,94,150,'#2a9a00',.15),(100,133,184,240,'#1f9030',.02),(145,215,184,262,'#2a9a00',.028),(145,215,204,300,'#c8a090',.01),
             (145,215,240,345,'#106a70',.008),(210,245,190,300,'#101868',.035),(214,245,256,345,'#101040',.03),(232,262,255,350,'#602070',.03),(232,300,190,345,'#106080',.008),
             (284,296,204,350,'#101868',.04),(284,300,300,460,'#701808',.04),(296,370,355,460,'#b02a15',.025),(296,370,480,578,'#c0301c',.012),(258,300,340,450,'#802018',.03),(320,372,300,460,'#a03028',.012),
             (395,410,355,530,'#c04a40',.035),(455,490,355,460,'#c04a40',.012),(455,490,478,580,'#c04a40',.018),(455,490,640,664,'#c04a40',.008),(514,590,478,612,'#c0352a',.018),(514,590,640,664,'#c0352a',.012),
             (514,590,358,478,'#c05040',.008),(630,702,478,612,'#c8382a',.022),(630,702,640,664,'#c0352a',.025),(630,725,734,748,'#d05048',.04),(650,700,358,478,'#c05040',.006),
             (700,750,734,771,'#e08080',.03)]

# ---- panel F: heatmap blocks (first col, last col, first row, last row)
f_blocks = [(0,94,0,107),(197,394,0,107),(178,180,0,107),(190,194,0,107),(488,499,0,107),(530,538,0,107),(544,551,0,107),(937,957,0,109),(980,999,0,109),(1007,1040,0,107),
            (854,856,0,107),(905,907,0,40),(427,450,76,107),(400,425,99,107),(512,538,90,103),(512,532,66,74),(512,532,38,41),(582,602,108,113),(612,642,67,70),(640,658,54,59),
            (812,827,101,107),(964,999,41,48),(957,1008,66,70),(957,999,91,93),(957,999,101,109),(0,197,281,439),(980,1063,220,280),(980,996,281,439),(1008,1063,407,439),(174,184,220,281),
            (197,210,264,281),(212,228,273,281),(212,228,264,266),(287,312,194,219),(394,422,194,219),(427,452,194,219),(936,1005,161,181),(450,510,273,281),(450,472,264,273),(477,510,252,262),
            (310,347,273,281),(824,847,273,281),(10,28,182,192),(180,186,182,192),(194,210,182,192),(220,237,182,192),(480,510,338,348),(477,490,348,356),(450,477,364,380),(477,512,378,380),
            (557,582,381,399),(557,582,404,406),(936,1005,357,362),(582,602,360,363),(640,658,378,390),(612,637,161,175),(640,658,229,237),(197,208,426,433),(455,478,428,434),(197,210,363,371),
            (212,228,371,381),(936,1012,133,135),(936,1012,137,139),(936,1012,141,143),(990,1000,125,160),(60,66,194,216),(70,78,194,215),(138,144,194,215),(185,190,194,219)]
f_white_cols = [(6,9),(16,19),(51,54),(102,122),(156,159),(166,169),(181,184),(190,197)]
f_white_row = (361, 364)
f_white_blocks = [(960,985,170,172),(996,1008,300,305)]
# speckle: (first row, last row, columns with a short mark)
f_speckle = [
 (12,15,[410,700,820,912]),(24,28,[110,150,508,875,880,1059]),(30,36,[105,150,490,875,890,900,1050]),(33,37,[425,605,655,705,860,868]),
 (40,44,[150,175,480,650,880,1000,1055]),(46,50,[105,170,400,420,580,640,770,870,905]),(50,55,[145,175,445,475,690,740,800,900,1055]),(58,62,[100,165,400,432,480,590,640,700,775,830,885,1050]),
 (62,67,[143,180,412,450,575,615,665,735,790,860,905,1060]),(72,77,[105,150,405,440,580,650,690,780,860,890,1050]),(78,84,[140,178,420,560,620,665,760,825,870,905]),(86,92,[110,160,405,440,605,655,700,820,860,895]),
 (92,99,[135,170,420,590,640,670,745,830,880,1050]),
 (108,113,[2,30,60,92,118,150,172,205,235,270,300,330,360,405,440,470,505,540,570,610,640,680,720,770,810,850,890,1015,1045]),
 (112,118,[12,45,75,108,135,165,182,222,250,285,315,345,380,420,455,485,520,555,590,625,660,700,740,790,825,870,910,1030,1058]),
 (116,122,[5,38,68,100,140,170,200,230,262,295,325,355,385,412,448,478,512,548,582,618,652,690,730,780,830,860,900,1022,1055]),
 (120,126,[20,52,85,125,158,188,215,245,278,310,340,372,400,430,462,498,530,565,600,635,672,712,760,800,845,880,1012,1040]),
 (124,130,[8,42,72,115,148,176,208,240,268,305,335,366,392,425,458,490,522,558,595,628,665,705,745,775,810,850,890,920,1020,1050]),
 (128,134,[25,58,90,130,162,192,225,255,288,320,350,378,408,440,472,505,540,575,610,645,685,722,840,870,905,1035]),
 (132,137,[3,35,66,95,122,155,182,212,236,272,300,328,362,398,428,466,500,528,570,604,640,678,718,760,815,862,895,1010]),
 (136,141,[16,48,80,112,144,172,202,232,260,292,322,352,384,418,452,482,514,546,584,620,658,695,738,782,826,876,1025,1052]),
 (140,146,[10,40,70,104,136,166,196,226,256,284,316,344,374,410,444,476,508,536,576,612,650,690,730,770,820,880,1018,1048]),
 (145,150,[22,54,86,118,150,180,214,244,274,306,338,368,402,436,468,496,532,566,606,642,682,726,768,806,856,1030,1058]),
 (150,156,[15,48,110,170,205,238,272,312,348,395,440,510,550,590,720,825,855,885,1040]),
 (156,161,[30,65,145,185,222,258,290,330,368,418,470,530,825,870,895,1055]),
 (161,167,[50,140,178,240,290,345,400,475,580,860,1015,1045]),
 (167,173,[0,170,210,270,310,360,440,530,720,820,875,885,1022]),
 (173,180,[50,140,170,240,290,345,370,475,580,860,885,1015]),
 (194,200,[8,22,60,72,170,180,210,255,310,365,395,455,500,580,640,810,840,930,1010,1050]),
 (200,208,[138,190,230,322,375,480,540,625,650,822,905,945,960,1030,1058]),
 (208,214,[8,22,72,170,210,310,365,395,500,580,650,810,905,930,1010]),
 (214,222,[60,138,180,255,375,455,540,640,822,840,945,1050]),
 (226,232,[20,75,130,210,250,318,372,400,455,530,600,650,690,760,865,890,915]),
 (234,240,[45,100,170,232,290,340,388,430,480,560,640,660,830,905,925]),
 (242,248,[20,75,130,210,250,318,400,530,650,760,865,890]),
 (248,254,[15,95,142,205,260,290,335,390,450,510,590,650,720,850,915]),
 (256,262,[60,130,170,240,285,318,365,415,480,530,600,660,825,900]),
 (262,269,[15,95,142,205,260,335,390,450,590,650,720,850,915]),
 (270,280,[20,60,180,240,260,285,350,365,395,430,530,545,570,590,600,620,650,665,720,745,825,850,885,900,915,930,950]),
 (285,292,[220,250,385,390,630,895,905,1015,1030]),(295,300,[440,1040]),(300,306,[225,335,505,660,900,1012]),(308,314,[310,490,540,740,830,1040]),(314,320,[555,1055]),
 (322,327,[220,300,370,530,640,905]),(328,334,[235,330,420,590,740,985,1030]),(334,340,[310,480,830,1010]),
 (342,348,[215,320,485,640,985]),(350,358,[245,290,500,830,1015,1040]),(364,370,[215,440,500,620,1010]),(370,375,[290,460,510,530,985,1040]),
 (376,384,[240,300,320,340,370,390,430,520,530,590,625,660,835,935,985,1005,1025,1040,1055]),
 (384,390,[210,290,385,535,670,930,1005]),(392,400,[230,340,530,640,645,720,830,985,1025]),
 (400,407,[285,345,480,590,735,900,975]),(407,415,[310,430,530,615,650,835,950,985,1012]),
 (415,423,[215,290,345,420,530,600,740,830,945]),(425,439,[255,320,375,445,500,580,645,760,900,990]),
]
# left dendrogram of F: (node x, first row, last row, child x of first, child x of last)
f_side = [(18,156,405,103,310),(103,83,229,354,193),(354,68,98,378,385),(378,63,73,388,395),(385,90,106,398,405),(193,192,266,228,315),(228,173,211,266,358),(266,156,190,282,410),
          (282,143,173,300,345),(300,131,150,325,325),(325,125,137,375,365),(325,143,155,380,375),(345,165,181,375,395),(358,204,218,375,385),(375,200,210,395,400),(385,213,220,400,400),
          (315,254,278,340,385),(340,241,262,355,385),(355,230,247,370,370),(370,226,234,385,390),(370,242,250,388,390),(385,258,266,400,405),(385,272,280,400,405),(310,380,430,340,380),
          (340,363,397,365,360),(365,345,372,385,395),(385,335,355,400,395),(395,365,380,405,405),(360,390,405,395,400),(395,385,395,405,405),(380,424,436,400,405),(380,410,424,395,400),
          (327,107,130,360,350),(360,110,118,395,400),(350,124,134,395,400)]
f_chain_upper = [(410,0),(409,10),(408,18),(407,26),(405,34),(403,40),(400,46),(397,52),(392,58),(388,62)]
f_chain_lower = [(410,281),(408,288),(405,295),(402,302),(398,310),(394,318),(390,325),(385,332),(380,338)]
f_side_leaves = [(395,109),(390,113),(385,117),(380,122),(365,128),(370,133),(375,138),(375,143),(372,148),(380,152),(375,160),(380,168),(375,177),(372,184),(385,206),(385,212),(385,218),
                 (390,230),(385,236),(380,242),(385,248),(395,254),(395,260),(390,268),(395,276),(395,345),(392,352),(398,360),(395,368),(392,376),(398,384),(400,392),(395,400),(398,408),
                 (395,416),(398,422),(395,430),(395,436),(360,111),(355,115),(350,119),(345,125),(350,130),(355,135),(360,140),(355,146),(350,150),(355,155),(360,163),(362,172),(358,180),(365,187),
                 (375,225),(372,233),(378,239),(372,245),(368,251),(382,257),(386,264),(388,272),(380,280),(396,70),(400,78),(398,86),(402,94),(404,100)]
f_bar_groups = [(0,197,'#00c800'),(197,394,'#0a30cc'),(394,1064,'#ff1500')]

DEND_GREEN, DEND_BLUE, DEND_RED, DEND_PURPLE = '#4daf4a', '#377eb8', '#e41a1c', '#984ea3'
FILL_GREEN, FILL_BLUE, FILL_RED = '#52ad5b', '#2e7cb6', '#e4222f'
DOT_GREEN, DOT_BLUE, DOT_RED = '#00c000', '#0a2fd0', '#f51a10'
GREY = '#5f5f5f'

fig = plt.figure(figsize=(W / 100, H / 100), dpi=100, facecolor='white')


def px_axes(x0, y0, x1, y1, zorder=1):
    ax = fig.add_axes([x0 / W, 1 - y1 / H, (x1 - x0) / W, (y1 - y0) / H], zorder=zorder)
    return ax


def label(x, y, s, **kw):
    fig.text(x / W, 1 - y / H, s, ha='center', va='center', **kw)


def merge_segs(rows):
    segs = []
    for xl, xr, top, lb, rb in rows:
        segs += [[(xl, lb), (xl, top)], [(xl, top), (xr, top)], [(xr, top), (xr, rb)]]
    return segs


def twig_segs(rows, base):
    segs = []
    for x, w, top in rows:
        segs += [[(x, base), (x, top)], [(x, top), (x + w, top)], [(x + w, top), (x + w, base)]]
    return segs


def draw_segs(ax, segs, col, lw=1.0, alpha=.72, z=2):
    ax.add_collection(LineCollection(segs, colors=col, linewidths=lw, alpha=alpha, zorder=z))


def fill_tops(ax, x0, x1, tops, base, col, alpha=1.0, z=3):
    # one bar per value, edge to edge over the group
    tops = np.array(tops)
    edges = np.linspace(x0, x1, len(tops) + 1)
    ax.fill_between(edges, np.append(tops, tops[-1]), base, step='post', color=col, lw=0, alpha=alpha, zorder=z)


def dend_axes(box, xlim):
    ax = px_axes(*box)
    ax.set_xlim(*xlim)
    ax.set_ylim(1433, 101)
    ax.axis('off')
    return ax


def bicolor(ax, row, lc, rc, lw=1.0, alpha=.65):
    xl, xr, top, lb, rb = row
    mid = (xl + xr) / 2
    draw_segs(ax, [[(xl, lb), (xl, top)], [(xl, top), (mid, top)]], lc, lw, alpha)
    draw_segs(ax, [[(mid, top), (xr, top)], [(xr, top), (xr, rb)]], rc, lw, alpha)


# A
ax = dend_axes((43.8, 34.8, 767.2, 493.5), (78, 1367))
bicolor(ax, a_root, DEND_GREEN, DEND_PURPLE)
bicolor(ax, a_second, DEND_BLUE, DEND_RED)
for rows, twigs, col in [(a_green, a_twigs_green, DEND_GREEN), (a_blue, a_twigs_blue, DEND_BLUE), (a_red, a_twigs_red, DEND_RED)]:
    draw_segs(ax, merge_segs(rows), col)
    draw_segs(ax, twig_segs(twigs, 1433), col, lw=.9, alpha=.7)
fill_tops(ax, 78, 318, a_top_green, 1433, FILL_GREEN)
fill_tops(ax, 318, 557, a_top_blue, 1433, FILL_BLUE)
fill_tops(ax, 557, 1367, a_top_red, 1433, FILL_RED)
ax.vlines(a_gaps, 1345, 1433, color='white', lw=1.2, zorder=4)

# B
ax = dend_axes((1001, 34.8, 1728, 493.5), (215, 1506))
bicolor(ax, b_root, DEND_GREEN, DEND_PURPLE)
bicolor(ax, b_second, DEND_BLUE, DEND_RED)
for rows, twigs, col in [(b_green, b_twigs_green, DEND_GREEN), (b_blue, b_twigs_blue, DEND_BLUE), (b_red, b_twigs_red, DEND_RED)]:
    draw_segs(ax, merge_segs(rows), col)
    draw_segs(ax, twig_segs(twigs, 1433), col, lw=.9, alpha=.55)
fill_tops(ax, 218, 1022, b_top_green, 1433, FILL_GREEN)
fill_tops(ax, 1022, 1373, b_top_blue, 1433, FILL_BLUE)
fill_tops(ax, 1373, 1506, b_top_red, 1433, FILL_RED)
ax.vlines(b_gaps, 1270, 1433, color='#dcecdc', lw=1.2, zorder=4)
ax.vlines([216], 1165, 1433, color=FILL_GREEN, lw=.8, zorder=4)


def scatter_panel(box, xlim, ylim, xticks, yticks, centres, groups, edge_lw=.8, edge_alpha=.5):
    ax = px_axes(*box)
    ax.set_xlim(*xlim)
    ax.set_ylim(*ylim)
    for pts, col, ci in groups:
        cx, cy = centres[ci]
        segs = [[(x, y), (cx, cy)] for x, y in pts]
        ax.add_collection(LineCollection(segs, colors='#8f8f8f', linewidths=edge_lw, alpha=edge_alpha, zorder=3))
    for pts, col, ci in groups:
        xs, ys = zip(*pts)
        ax.scatter(xs, ys, s=30, c=col, lw=0, zorder=2)
    for i, (cx, cy) in enumerate(centres):
        ax.text(cx, cy, str(i + 1), ha='center', va='center', fontsize=8.5, zorder=5,
                bbox=dict(boxstyle='square,pad=.28', fc='white', ec='#222222', lw=.8))
    ax.set_xticks(xticks)
    ax.set_xticklabels(['%.1f' % t for t in xticks], fontsize=11)
    ax.set_yticks(yticks)
    ax.set_yticklabels(['%.1f' % t for t in yticks], fontsize=11, rotation=90, va='center')
    ax.tick_params(length=8, width=.8, color='#333333', pad=9, labelcolor='#222222')
    for s in ax.spines.values():
        s.set_color('#555555')
        s.set_linewidth(.9)
    return ax


scatter_panel((97, 644, 767, 1107), (-.534, .353), (-.544, .2664), c_xticks, c_yticks, c_centres,
              [(c_blue, DOT_BLUE, 0), (c_red, DOT_RED, 1), (c_green, DOT_GREEN, 2)])
scatter_panel((1056, 644, 1721, 1108), (-.467, .171), (-.1947, .5354), d_xticks, d_yticks, d_centres,
              [(d_blue_c1, DOT_BLUE, 0), (d_green_c1, DOT_GREEN, 0), (d_red_c1, DOT_RED, 0),
               (d_red_c2, DOT_RED, 1), (d_green_c2, DOT_GREEN, 1), (d_blue_c2, DOT_BLUE, 1),
               (d_green_c3, DOT_GREEN, 2), (d_red_c3, DOT_RED, 2), (d_blue_c3, DOT_BLUE, 2),
               (d_red_band_c3, DOT_RED, 2), (d_green_band_c3, DOT_GREEN, 2)])

# E: one layout unit is one pixel, so circles stay round
ax = px_axes(0, 1280, 800, 1935)
ax.set_xlim(0, 800)
ax.set_ylim(1935, 1280)
ax.axis('off')
TOP_Y, BOT_Y = 1328, 1894
top_x = [x for x, r in e_top] + e_top_small
bot_x = [x for x, r in e_bottom] + e_bottom_small
for x, r in e_bottom:
    ax.add_patch(Circle((x, BOT_Y), r, fc='#ffc400', ec='none', alpha=.42, zorder=2))
e_segs, e_cols = [], []
for t0, t1, b0, b1, col, al in e_bundles:
    tops = [x for x in top_x if t0 <= x <= t1]
    bots = [x for x in bot_x if b0 <= x <= b1]
    for tx in tops:
        for bx in bots:
            e_segs.append([(tx, TOP_Y), (bx, BOT_Y)])
            e_cols.append(matplotlib.colors.to_rgba(col, al))
ax.add_collection(LineCollection(e_segs, colors=e_cols, linewidths=.7, zorder=3))
for x, r in e_top:
    ax.add_patch(Circle((x, TOP_Y), r, fc='#ff5a30', ec='none', alpha=.32, zorder=4))
    ax.add_patch(Circle((x, TOP_Y), r, fc='none', ec='black', lw=.9, alpha=.75, zorder=5))
for x in e_top_small:
    ax.add_patch(Circle((x, TOP_Y), 1.6, fc='#ff5a30', ec='black', lw=.5, alpha=.6, zorder=5))
for x, r in e_bottom:
    ax.add_patch(Circle((x, BOT_Y), r, fc='none', ec='black', lw=.9, alpha=.75, zorder=5))
for x in e_bottom_small:
    ax.add_patch(Circle((x, BOT_Y), 2.6, fc='#ffc400', ec='black', lw=.9, alpha=.8, zorder=5))

# F top dendrogram: same tree as A, in black
ax = dend_axes((1092, 1260, 1717.6, 1426.7), (78, 1367))
for row in [a_root, a_second] + a_green + a_blue + a_red:
    draw_segs(ax, merge_segs([row]), 'black', lw=.8, alpha=.85)
draw_segs(ax, twig_segs(a_twigs_green + a_twigs_blue + a_twigs_red, 1433), 'black', lw=.7, alpha=.8)
fill_tops(ax, 78, 318, a_top_green, 1433, 'black')
fill_tops(ax, 318, 557, a_top_blue, 1433, 'black')
fill_tops(ax, 557, 1367, a_top_red, 1433, 'black')

# F colour bar
ax = px_axes(1092, 1432.7, 1717.6, 1450.3)
ax.set_xlim(0, 1064)
ax.set_ylim(0, 1)
ax.axis('off')
for c0, c1, col in f_bar_groups:
    ax.broken_barh([(c0, c1 - c0)], (0, 1), color=col, lw=0)

# F heatmap
mat = np.zeros((439, 1064))
for c0, c1, r0, r1 in f_blocks:
    mat[r0:r1, c0:c1] = 1
for r0, r1, cols in f_speckle:
    for c in cols:
        mat[r0:r1, c:c + 2] = 1
for c0, c1 in f_white_cols:
    mat[f_white_row[0]:f_white_row[1], c0:c1] = 0
for c0, c1, r0, r1 in f_white_blocks:
    mat[r0:r1, c0:c1] = 0
ax = px_axes(1092, 1457, 1717.6, 1896)
ax.imshow(mat, cmap=matplotlib.colors.ListedColormap(['white', GREY]), aspect='auto', interpolation='antialiased', vmin=0, vmax=1)
ax.axis('off')

# F side dendrogram
ax = px_axes(840, 1457, 1082.5, 1896)
ax.set_xlim(0, 412)
ax.set_ylim(439, 0)
ax.axis('off')
side_segs = []
for x, r0, r1, cx0, cx1 in f_side:
    side_segs += [[(x, r0), (x, r1)], [(x, r0), (cx0, r0)], [(x, r1), (cx1, r1)]]
for x, r in f_side_leaves:
    side_segs.append([(x, r), (412, r)])
for chain in (f_chain_upper, f_chain_lower):
    side_segs.append(chain)
    side_segs += [[p, (412, p[1])] for p in chain]
ax.add_collection(LineCollection(side_segs, colors='#222222', linewidths=.8, alpha=.85))

# texts
for s, x, y in [('A', 18, 20), ('B', 970, 19), ('C', 19, 612), ('D', 975, 611), ('E', 19, 1254), ('F', 969, 1251)]:
    label(x, y, s, fontsize=27, fontweight='bold', color='black')
label(30, 873, 'POcA Axis 2', fontsize=17.5, rotation=90)
label(410, 1175, 'POcA Axis 1', fontsize=17.5)
label(986, 871, 'PCoA Axis 2', fontsize=17.5, rotation=90)
label(1368, 1175, 'POcA Axis 1', fontsize=17.5)
label(411, 1286, 'Patients', fontsize=17.5)
label(416, 1932, 'Pathways', fontsize=17.5)
label(1414, 1933, 'Patients', fontsize=17.5)
label(1745, 1648, 'Pathways', fontsize=17.5, rotation=90)

fig.savefig('out.png', dpi=100)
